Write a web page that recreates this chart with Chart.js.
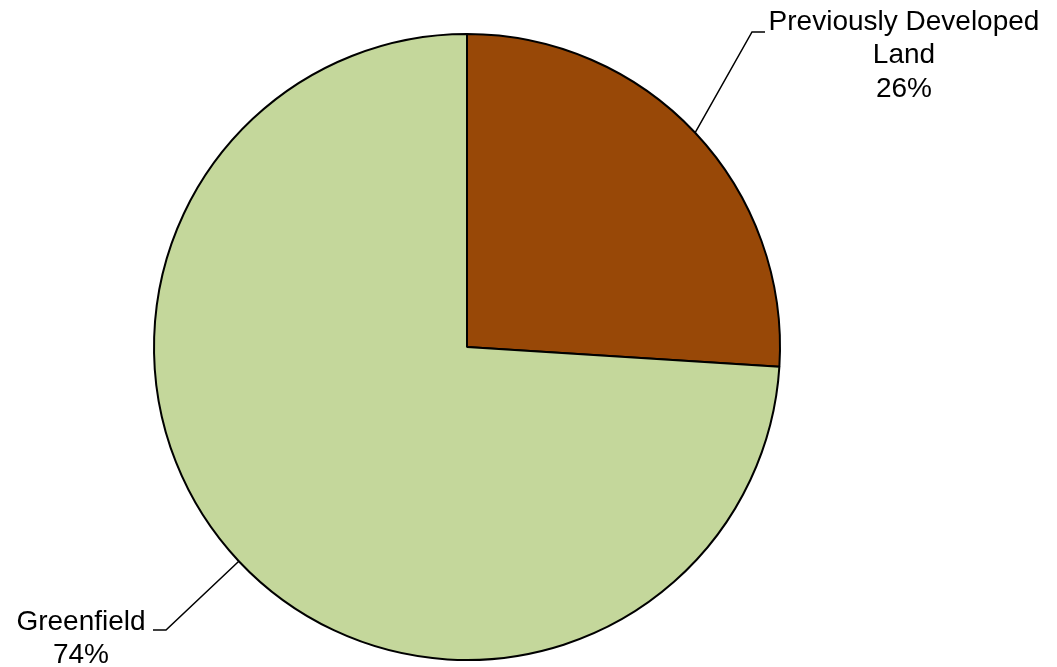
<!DOCTYPE html>
<html>
<head>
<meta charset="utf-8">
<script src="https://cdn.jsdelivr.net/npm/chart.js@4/dist/chart.umd.min.js"></script>
<style>
	html, body { margin: 0; padding: 0; background: #fff; }
	#wrap { width: 1057px; height: 667px; }
</style>
</head>
<body>
<div id="wrap"><canvas id="landPie"></canvas></div>
<script>
const categories = ['Previously Developed Land', 'Greenfield'];
const shares = [26, 74];
const labelLines = [['Previously Developed', 'Land', '26%'], ['Greenfield', '74%']];
const sliceColors = ['#984807', '#c4d79b'];

// label anchor (text centre) and elbow point of each leader line
const labelSpots = [
	{ text: { x: 904, y: 22 }, elbow: { x: 752, y: 32 }, end: { x: 765, y: 32 } },
	{ text: { x: 81, y: 622 }, elbow: { x: 166, y: 630 }, end: { x: 153, y: 630 } },
];

const calloutLabels = {
	id: 'calloutLabels',
	afterDatasetsDraw(chart) {
		const ctx = chart.ctx;
		const arcs = chart.getDatasetMeta(0).data;
		ctx.save();
		arcs.forEach((arc, i) => {
			const { x, y, startAngle, endAngle, outerRadius } = arc.getProps(
				['x', 'y', 'startAngle', 'endAngle', 'outerRadius'],
				true
			);
			const mid = (startAngle + endAngle) / 2;
			const sx = x + Math.cos(mid) * outerRadius;
			const sy = y + Math.sin(mid) * outerRadius;
			const spot = labelSpots[i];

			ctx.strokeStyle = '#000';
			ctx.lineWidth = 1.5;
			ctx.beginPath();
			ctx.moveTo(sx, sy);
			ctx.lineTo(spot.elbow.x, spot.elbow.y);
			ctx.lineTo(spot.end.x, spot.end.y);
			ctx.stroke();

			ctx.fillStyle = '#000';
			ctx.font = '28px "Liberation Sans", Arial, sans-serif';
			ctx.textAlign = 'center';
			ctx.textBaseline = 'middle';
			labelLines[i].forEach((line, k) => {
				ctx.fillText(line, spot.text.x, spot.text.y + k * 33.5);
			});
		});
		ctx.restore();
	},
};

new Chart(document.getElementById('landPie'), {
	type: 'pie',
	data: {
		labels: categories,
		datasets: [
			{
				data: shares,
				backgroundColor: sliceColors,
				borderColor: '#000',
				borderWidth: 2,
			},
		],
	},
	options: {
		responsive: true,
		maintainAspectRatio: false,
		animation: false,
		layout: {
			padding: { left: 153, right: 276, top: 33, bottom: 6 },
		},
		plugins: {
			legend: { display: false },
			tooltip: { enabled: false },
		},
	},
	plugins: [calloutLabels],
});
</script>
</body>
</html>
